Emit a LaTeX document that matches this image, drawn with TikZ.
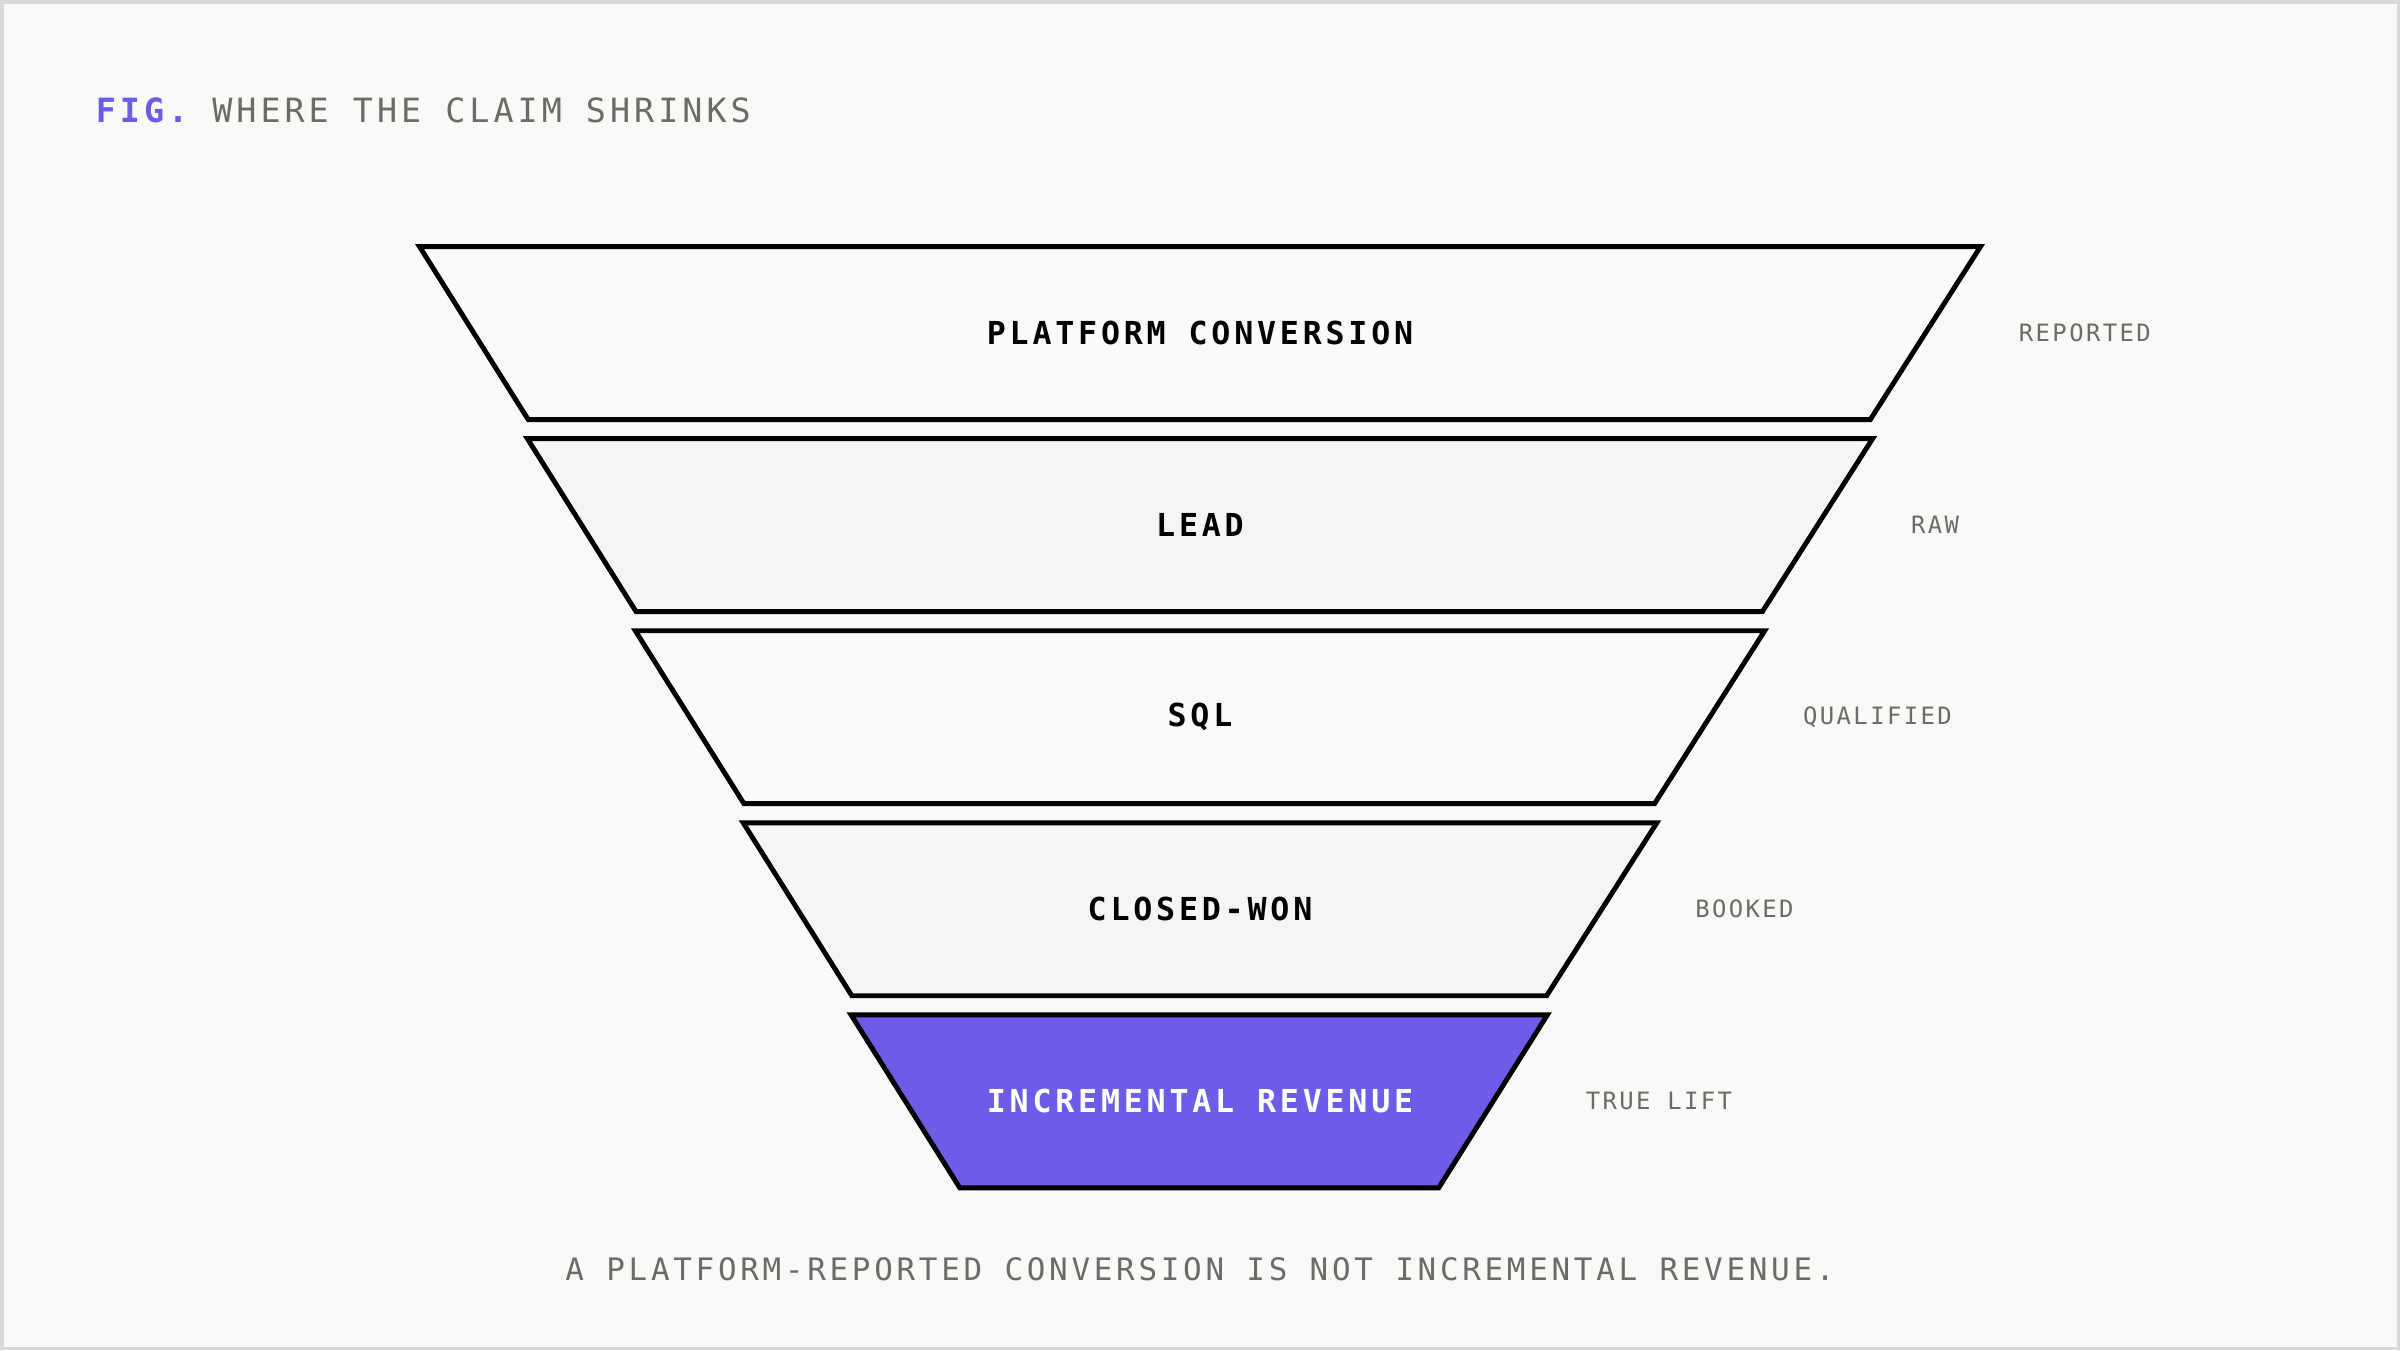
\documentclass[tikz,border=0pt]{standalone}
\usepackage{fontspec}
\setmonofont{DejaVu Sans Mono}
\newfontfamily\labelfont[LetterSpace=12]{DejaVu Sans Mono}
\newfontfamily\sidefont[LetterSpace=10]{DejaVu Sans Mono}
\usepackage{tikz}
\usetikzlibrary{calc,positioning}
\definecolor{bgpaper}{HTML}{F9F9F7}
\definecolor{bandA}{HTML}{FAFAF8}
\definecolor{bandB}{HTML}{F5F5F3}
\definecolor{lift}{HTML}{6C5CE7}
\definecolor{inkgray}{HTML}{6E6A66}
\tikzset{
  band/.style={draw=black, line width=1.4pt, line join=miter},
  bandtext/.style={font=\labelfont\bfseries\fontsize{9}{10}\selectfont},
  side/.style={anchor=west, text=inkgray, font=\sidefont\fontsize{6.8}{8}\selectfont}
}
\begin{document}
\begin{tikzpicture}[x=0.015306cm, y=-0.015306cm]

      \fill[bgpaper, draw=black!15, line width=1pt] (1,1) rectangle (1567,881);
      \useasboundingbox (0,0) rectangle (1568,882);

      \node[anchor=west, inner sep=0pt] (fig) at (62,72) {\labelfont\fontsize{9.5}{11}\selectfont\textcolor{lift}{\bfseries FIG.}\ \textcolor{inkgray}{WHERE THE CLAIM SHRINKS}};

      % funnel bands: index / top y / inset / fill / text / side label
      \foreach \i/\fillc/\txt/\tag in {0/bandA/PLATFORM CONVERSION/REPORTED,
                                      1/bandB/LEAD/RAW,
                                      2/bandA/SQL/QUALIFIED,
                                      3/bandB/CLOSED-WON/BOOKED} {
        \pgfmathsetmacro\ty{161+125.5*\i}
        \pgfmathsetmacro\by{\ty+113}
        \pgfmathsetmacro\tl{274+70.5*\i}
        \pgfmathsetmacro\tr{1294-70.5*\i}
        \draw[band, fill=\fillc] (\tl,\ty) -- (\tr,\ty) -- (\tr-72,\by) -- (\tl+71,\by) -- cycle;
        \node[bandtext] (b\i) at (784,\ty+56.5) {\txt};
        \node[side] (s\i) at (\tr+17,\ty+56.5) {\tag};
      }
      \draw[band, fill=lift] (556,663) -- (1011,663) -- (940,776) -- (627,776) -- cycle;
      \node[bandtext, text=white] (b4) at (784,719.5) {INCREMENTAL REVENUE};
      \node[side] (s4) at (1028,719.5) {TRUE LIFT};

      \node[text=inkgray, font=\labelfont\fontsize{8.8}{10}\selectfont] (note) at (784,829) {A PLATFORM-REPORTED CONVERSION IS NOT INCREMENTAL REVENUE.};
    \end{tikzpicture}
\end{document}
